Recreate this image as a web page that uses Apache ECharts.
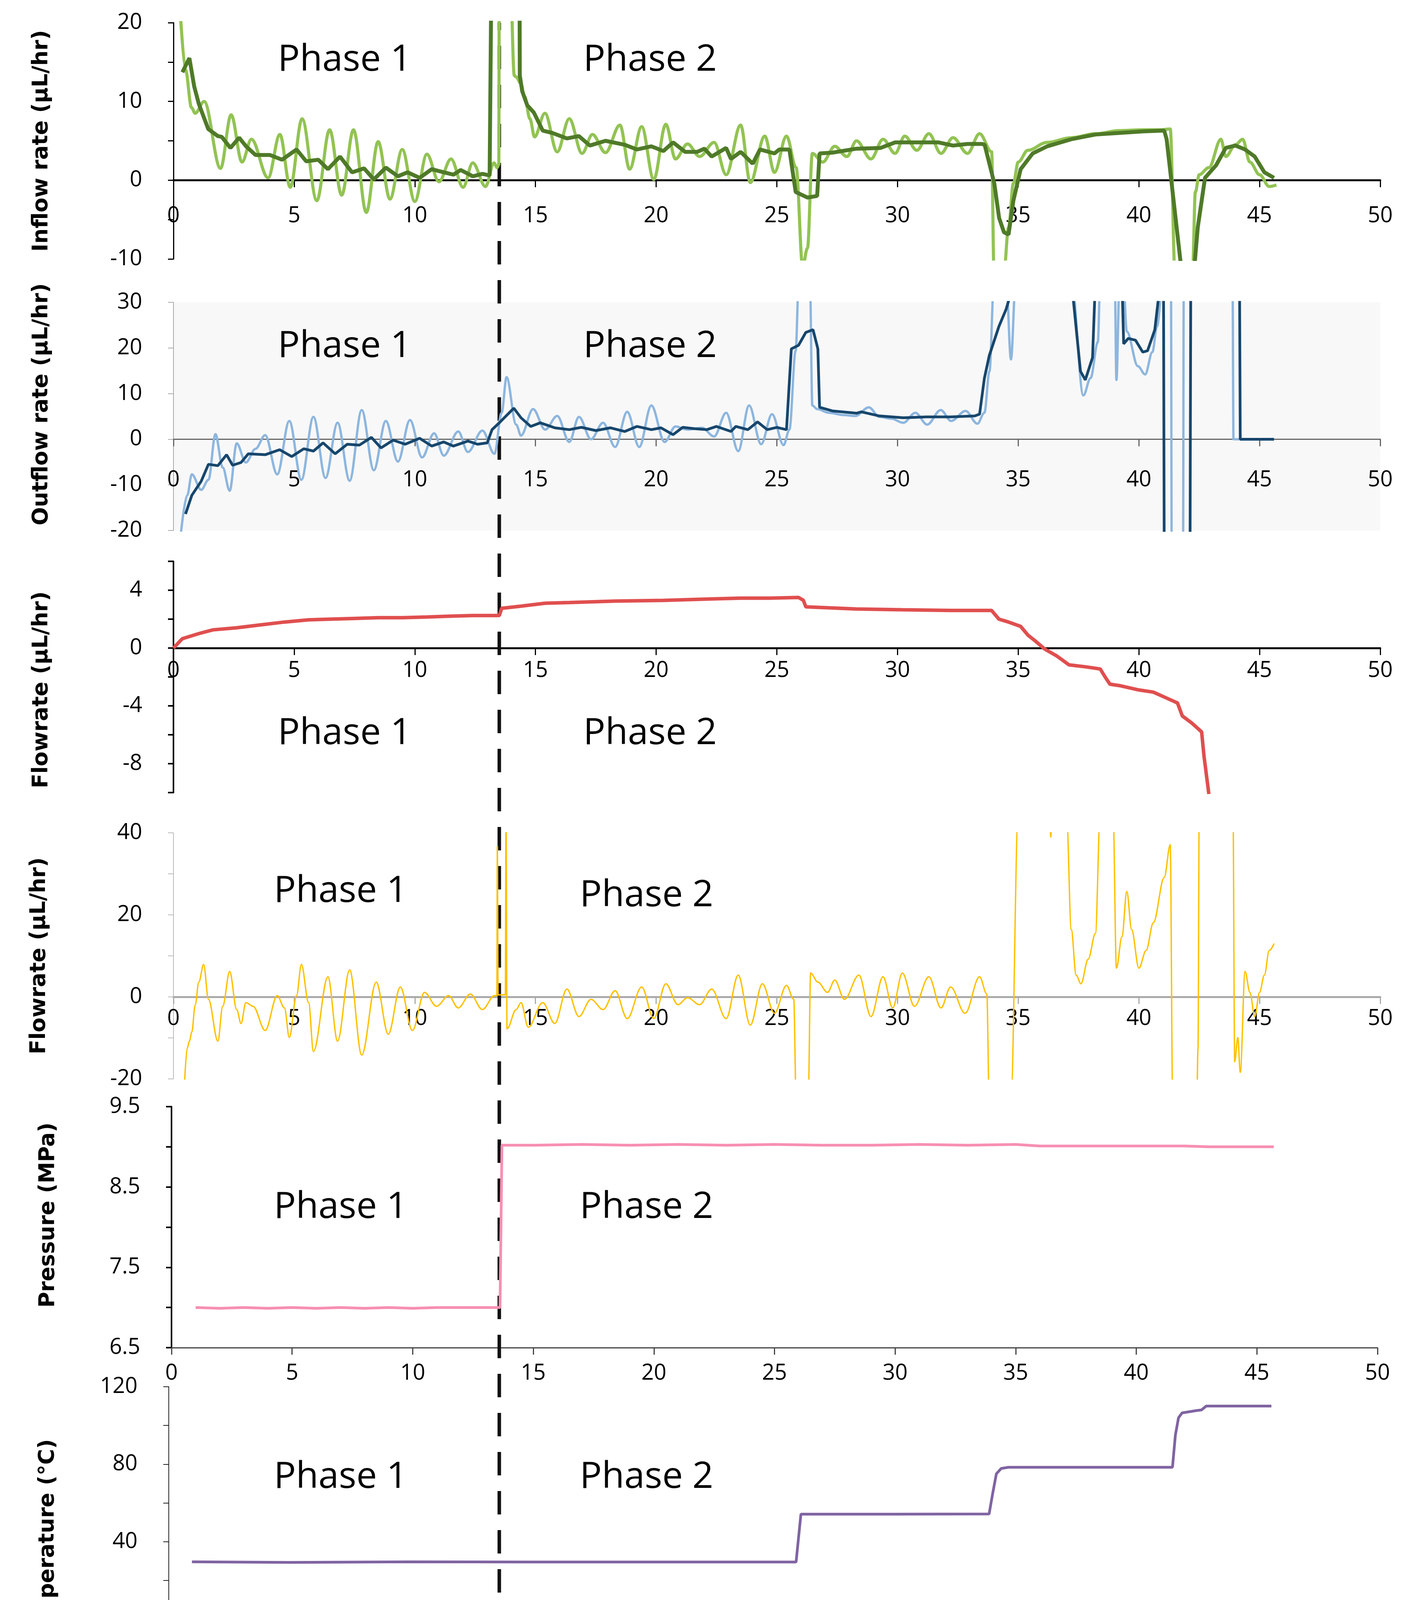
<!DOCTYPE html>
<html>
<head>
<meta charset="utf-8">
<title>Pump flow, pressure and temperature</title>
<script src="https://cdn.jsdelivr.net/npm/echarts@6/dist/echarts.min.js"></script>
<style>
    html, body { margin: 0; padding: 0; background: #fff; }
    #main { width: 3622px; height: 4697px; }
</style>
</head>
<body>
<div id="main"></div>
<script>
    // x = time (days), y = value
    const injectionPump = [
        [0.27, 22], [0.5, 14], [0.75, 9.2], [0.9, 8.5], [1.27, 10], [1.95, 1.5], [2.39, 8.3], [2.84, 2.3],
        [3.23, 5.2], [3.92, 0.3], [4.41, 5.8], [4.84, -0.9], [5.33, 7.8], [5.94, -2.6], [6.47, 6.4], [6.97, -1.9],
        [7.46, 6.4], [7.99, -4.1], [8.48, 4.9], [8.97, -2.4], [9.48, 3.9], [10.0, -2.7], [10.5, 3.3], [11.0, -0.2],
        [11.5, 2.7], [12.0, -0.9], [12.4, 2.2], [12.93, -0.8], [13.28, 2.2], [13.41, 1.6], [13.48, 2.0], [13.5, 25],
        [13.96, 25], [14.12, 13.3], [14.2, 13.1], [14.39, 12.3], [14.55, 10.6], [14.77, 7.8], [14.96, 5.5],
        [15.39, 8.5], [15.9, 3.6], [16.4, 7.8], [16.93, 3.4], [17.36, 5.8], [17.9, 3.5], [18.5, 7.0], [18.9, 1.4],
        [19.4, 6.8], [19.9, 0.1], [20.4, 7.1], [20.8, 2.7], [21.3, 4.6], [21.8, 3.0], [22.4, 4.8], [22.9, 0.7],
        [23.5, 7.0], [23.9, -0.3], [24.5, 5.6], [24.9, 1.0], [25.4, 5.6], [25.8, 1.6], [26.07, -11], [26.27, -8.6],
        [26.47, 3.4], [26.9, 2.3], [27.4, 4.3], [27.9, 3.0], [28.3, 5.0], [28.9, 2.7], [29.4, 5.2], [29.9, 3.4],
        [30.3, 5.6], [30.8, 3.8], [31.3, 5.9], [31.8, 3.4], [32.3, 5.4], [32.9, 3.4], [33.4, 5.9], [33.9, 3.6],
        [34.0, -12], [34.4, -12], [34.6, -6], [34.8, -0.4], [35.0, 2.3], [35.4, 3.8], [36.2, 4.8], [37.2, 5.4],
        [38.2, 5.9], [39.2, 6.3], [40.2, 6.4], [40.9, 6.4], [41.3, 6.5], [41.5, -12], [42.22, -12], [42.34, -1.5],
        [42.5, 0.7], [42.9, 1.6], [43.4, 5.2], [43.6, 3.0], [44.0, 4.5], [44.3, 5.2], [44.6, 2.3], [45.0, 0.7],
        [45.4, -0.8], [45.7, -0.6]
    ];
    const injectionAvg = [
        [0.37, 13.7], [0.66, 15.5], [0.86, 11.9], [1.05, 9.7], [1.44, 6.5], [1.84, 5.6], [2.0, 5.5], [2.36, 4.1],
        [2.72, 5.4], [3.01, 4.3], [3.4, 3.2], [4.0, 3.2], [4.5, 2.6], [5.1, 3.9], [5.5, 2.4], [6.0, 2.6],
        [6.4, 1.4], [6.9, 3.0], [7.4, 1.0], [7.9, 1.5], [8.3, 0.1], [8.8, 1.6], [9.3, 0.5], [9.7, 1.0],
        [10.2, 0.3], [10.7, 1.4], [11.2, 1.0], [11.6, 0.7], [11.9, 1.3], [12.4, 0.5], [12.8, 0.8], [13.1, 0.6],
        [13.17, 25], [14.34, 25], [14.35, 13.3], [14.45, 11.3], [14.66, 9.5], [14.93, 8.6], [15.3, 6.3], [15.7, 6.0],
        [16.3, 5.3], [16.8, 5.6], [17.25, 4.4], [17.9, 5.0], [18.7, 4.5], [19.2, 3.9], [19.8, 4.3], [20.3, 3.7],
        [20.7, 4.8], [21.2, 3.6], [21.7, 3.6], [22.0, 4.0], [22.3, 3.0], [22.9, 4.1], [23.1, 2.7], [23.5, 3.6],
        [24.0, 2.1], [24.3, 3.9], [24.9, 3.4], [25.1, 3.9], [25.52, 3.9], [25.78, -1.5], [26.27, -2.2], [26.67, -2.0],
        [26.77, 3.4], [27.3, 3.5], [28.3, 4.0], [29.3, 4.1], [29.9, 4.8], [30.9, 4.8], [31.7, 4.8], [32.3, 4.4],
        [32.9, 4.6], [33.5, 4.6], [33.61, 4.5], [34.01, -0.4], [34.21, -4.8], [34.41, -6.6], [34.6, -6.9],
        [34.8, -2.6], [35.1, 1.4], [35.6, 3.4], [36.2, 4.3], [37.2, 5.2], [38.2, 5.8], [39.2, 6.0], [40.2, 6.2],
        [41.05, 6.3], [41.15, 5.2], [41.75, -11], [42.3, -11], [42.44, -6], [42.74, 0.3], [43.2, 1.9], [43.6, 4.1],
        [44.0, 4.4], [44.4, 3.9], [44.8, 3.0], [45.2, 1.0], [45.6, 0.3]
    ];
    const backpressurePump = [
        [0.3, -21], [0.57, -12.3], [0.76, -7.7], [1.15, -11.1], [1.45, -8.9], [1.74, 1.1], [2.04, -6.2], [2.33, -11.3],
        [2.62, -0.9], [3.0, -5.1], [3.4, -2.1], [3.8, 0.9], [4.3, -7.7], [4.8, 4.0], [5.3, -8.9], [5.8, 4.9],
        [6.3, -8.5], [6.8, 3.6], [7.3, -9.1], [7.8, 6.4], [8.3, -6.8], [8.8, 4.0], [9.3, -4.9], [9.8, 4.2],
        [10.3, -4.0], [10.8, 1.3], [11.2, -3.6], [11.8, 1.7], [12.2, -2.8], [12.8, 1.9], [13.3, -3.2], [13.6, 5.8],
        [13.8, 13.6], [14.2, 3.2], [14.4, 0.8], [14.9, 6.6], [15.4, 2.1], [15.9, 5.1], [16.4, -0.6], [16.8, 4.9],
        [17.3, 0], [17.8, 3.6], [18.3, -1.7], [18.8, 6.0], [19.3, -1.7], [19.8, 7.4], [20.35, -0.6], [20.8, 2.8],
        [21.3, 2.1], [21.9, 2.5], [22.4, 0.6], [22.9, 5.8], [23.4, -2.6], [23.85, 7.4], [24.35, -1.1], [24.8, 5.5],
        [25.28, -1.3], [25.52, 2.1], [25.78, 19.4], [25.91, 35], [26.37, 35], [26.47, 7.4], [26.67, 6.6],
        [27.16, 5.8], [27.76, 5.3], [28.26, 5.1], [28.81, 7.0], [29.25, 4.9], [29.74, 4.5], [30.24, 3.6],
        [30.74, 5.8], [31.23, 3.2], [31.79, 6.4], [32.22, 4.0], [32.82, 6.2], [33.31, 3.4], [33.6, 5.8],
        [33.81, 14.9], [34.0, 35], [34.5, 35], [34.7, 17.5], [34.9, 35], [37.2, 35], [37.7, 9.6], [38.0, 13.4],
        [38.3, 21.3], [38.4, 35], [39.0, 35], [39.07, 13.0], [39.2, 35], [39.35, 35], [39.5, 23.6], [39.96, 16.0],
        [40.26, 14.2], [40.56, 19.1], [40.75, 24.7], [41.0, 35], [41.33, 35], [41.36, -25], [41.83, -25],
        [41.86, 35], [43.88, 35], [43.92, 0], [45.6, 0]
    ];
    const backpressureAvg = [
        [0.5, -16.4], [0.76, -12.3], [1.15, -9.2], [1.45, -5.5], [1.84, -5.8], [2.2, -3.4], [2.45, -5.7], [2.8, -5.1],
        [3.1, -3.2], [3.8, -3.4], [4.4, -2.3], [4.9, -3.8], [5.4, -2.1], [5.8, -2.6], [6.2, -0.8], [6.7, -3.2],
        [7.2, -1.1], [7.7, -1.3], [8.2, 0.4], [8.6, -1.9], [9.1, -0.2], [9.6, -1.1], [10.2, 0.2], [10.7, -1.5],
        [11.2, -0.6], [11.6, -1.5], [12.2, -0.4], [12.6, -1.1], [13.0, -0.8], [13.2, 2.1], [13.5, 3.6], [14.1, 6.8],
        [14.4, 4.7], [14.8, 2.8], [15.2, 3.6], [15.8, 2.5], [16.4, 2.1], [16.9, 2.6], [17.5, 1.9], [18.1, 2.5],
        [18.7, 1.7], [19.2, 2.8], [19.8, 2.1], [20.2, 2.5], [20.7, 1.0], [21.1, 2.6], [21.6, 2.3], [22.1, 2.1],
        [22.5, 2.8], [23.1, 1.7], [23.3, 2.8], [23.8, 2.1], [24.2, 3.8], [24.6, 2.1], [25.0, 2.6], [25.4, 2.1],
        [25.6, 19.8], [25.9, 20.6], [26.2, 23.4], [26.5, 24.0], [26.7, 19.8], [26.77, 7.0], [27.3, 6.2],
        [28.3, 5.7], [28.5, 6.0], [29.25, 5.1], [30.24, 4.7], [31.2, 4.9], [32.2, 4.9], [33.2, 5.1], [33.4, 5.5],
        [33.6, 13.4], [33.8, 18.3], [34.2, 24.7], [34.5, 28.5], [34.64, 31], [35.0, 35], [37.2, 35], [37.58, 14.9],
        [37.78, 13.0], [38.08, 17.9], [38.2, 35], [39.3, 35], [39.37, 20.9], [39.56, 22.1], [39.86, 21.7],
        [40.16, 19.1], [40.36, 19.4], [40.66, 24.0], [40.9, 35], [41.02, 35], [41.05, -25], [42.12, -25],
        [42.15, 35], [44.17, 35], [44.2, 0], [45.6, 0]
    ];
    const netFlow = [
        [0, 0], [0.37, 0.65], [1.05, 1.0], [1.64, 1.26], [2.6, 1.4], [3.6, 1.6], [4.6, 1.8], [5.6, 1.95],
        [6.5, 2.0], [7.5, 2.05], [8.5, 2.1], [9.5, 2.1], [10.5, 2.15], [11.4, 2.2], [12.4, 2.25], [13.5, 2.25],
        [13.6, 2.75], [14.4, 2.9], [15.4, 3.1], [16.4, 3.15], [18.3, 3.25], [20.3, 3.3], [22.3, 3.4], [23.5, 3.45],
        [24.7, 3.45], [25.9, 3.5], [26.1, 3.3], [26.2, 2.85], [28.3, 2.7], [30.2, 2.65], [32.2, 2.6], [33.9, 2.6],
        [34.2, 2.0], [34.6, 1.8], [35.1, 1.5], [35.4, 0.9], [35.7, 0.5], [36.1, -0.07], [36.6, -0.55],
        [37.1, -1.16], [37.8, -1.3], [38.4, -1.45], [38.6, -2.0], [38.8, -2.5], [39.2, -2.6], [40.0, -2.9],
        [40.6, -3.05], [41.2, -3.5], [41.6, -3.8], [41.8, -4.7], [42.2, -5.2], [42.6, -5.8], [42.7, -7.5], [42.9, -10.1]
    ];
    const confiningPump = [
        [0.45, -22], [0.57, -12.5], [0.66, -10.8], [0.76, -8.6], [0.9, -2], [1.05, 3.6], [1.25, 7.9], [1.45, -0.6],
        [1.84, -10.8], [2.04, -2.3], [2.33, 6.2], [2.62, -3.1], [2.8, -6.5], [3.0, -1.4], [3.3, -2.3], [3.8, -8.2],
        [4.3, 0.3], [4.6, -2.7], [4.8, -9.9], [5.1, 0.3], [5.3, 7.9], [5.6, -1.4], [5.8, -13.3], [6.4, 4.9],
        [6.8, -10.8], [7.3, 6.6], [7.8, -14.2], [8.4, 3.6], [8.9, -9.1], [9.4, 2.4], [9.9, -8.2], [10.4, 1.1],
        [10.9, -2.3], [11.4, 0.3], [11.8, -2.7], [12.3, 0.7], [12.8, -3.1], [13.3, 0.3], [13.4, 0.3], [13.42, 36.7],
        [13.45, 0.5], [13.75, 0.5], [13.78, 45], [13.82, -7.8], [14.2, -3.1], [14.4, -1.4], [14.7, -7.4],
        [15.3, -1.4], [15.8, -6.5], [16.3, 1.9], [16.8, -4.8], [17.3, -0.6], [17.8, -3.1], [18.3, 1.5], [18.8, -5.3],
        [19.4, 2.4], [19.9, -5.3], [20.4, 3.2], [20.9, -1.9], [21.3, -0.2], [21.8, -1.9], [22.3, 1.9], [22.9, -5.3],
        [23.4, 5.3], [23.9, -6.9], [24.4, 3.2], [24.9, -4.0], [25.4, 2.8], [25.7, -0.6], [25.8, -25], [26.3, -25],
        [26.4, 5.8], [26.7, 3.6], [27.1, 1.1], [27.4, 4.1], [27.8, -0.6], [28.4, 5.3], [28.9, -4.8], [29.4, 4.9],
        [29.8, -2.7], [30.2, 5.8], [30.7, -2.3], [31.3, 4.9], [31.8, -2.7], [32.2, 2.4], [32.8, -4.0], [33.4, 4.9],
        [33.7, 0.7], [33.8, -25], [34.7, -25], [35.0, 45], [36.3, 45], [36.35, 39], [36.4, 45], [37.0, 45],
        [37.2, 16.4], [37.4, 5.3], [37.6, 3.2], [37.9, 9.2], [38.2, 15.5], [38.4, 45], [38.93, 45], [39.07, 7.0],
        [39.3, 14.7], [39.5, 25.7], [39.7, 16.4], [40.0, 7.0], [40.3, 11.3], [40.6, 18.1], [41.05, 29.1],
        [41.3, 37.1], [41.4, -25], [42.4, -25], [42.45, -12.5], [42.5, 45], [43.9, 45], [43.97, -15.8],
        [44.1, -9.9], [44.2, -18.4], [44.4, 6.2], [44.6, 1.1], [44.8, -4.8], [45.0, 1.1], [45.2, 5.3],
        [45.4, 11.3], [45.6, 13.0]
    ];
    const confiningPressure = [
        [1.0, 7.00], [2.0, 6.99], [3.0, 7.00], [4.0, 6.99], [5.0, 7.00], [6.0, 6.99], [7.0, 7.00], [8.0, 6.99],
        [9.0, 7.00], [10.0, 6.99], [11.0, 7.00], [12.0, 7.00], [13.0, 7.00], [13.62, 7.00], [13.7, 9.02],
        [15, 9.02], [17, 9.03], [19, 9.02], [21, 9.03], [23, 9.02], [25, 9.03], [27, 9.02], [29, 9.02],
        [31, 9.03], [33, 9.02], [35, 9.03], [36, 9.01], [38, 9.01], [40, 9.01], [42, 9.01], [43, 9.00],
        [44, 9.00], [45.7, 9.00]
    ];
    const temperature = [
        [0.96, 29.6], [5, 29.3], [10, 29.6], [15, 29.5], [20, 29.5], [26.0, 29.5], [26.2, 54.2], [30, 54.2],
        [34.0, 54.3], [34.15, 65], [34.3, 75], [34.5, 77.8], [34.8, 78.4], [38, 78.4], [41.6, 78.4],
        [41.72, 95], [41.85, 104], [42.0, 106.5], [42.6, 107.7], [42.8, 108], [43.0, 110], [45.7, 110]
    ];
    const phaseBoundaryDay = 13.5;

    const xTicks = {min: 0, max: 50, interval: 5};
    const legendNames = ['Injection Pump', 'Backpressure Pump', 'Net Flow', 'Confining Pump', 'Confining Pressure', 'Temperature'];
    const legendColors = ['#92c353', '#4f8ac9', '#e04f4f', '#ffc000', '#f78fb3', '#8064a2'];

    const tickFont = "'Open Sans', sans-serif";
    const nameFont = "'DejaVu Sans', Verdana, sans-serif";

    // panel boxes (px) and y ranges
    const panels = [
        {left: 444, top: 58, width: 3089, height: 605, yMin: -10, yMax: 20},
        {left: 444, top: 774, width: 3089, height: 584, yMin: -20, yMax: 30},
        {left: 444, top: 1437, width: 3089, height: 592, yMin: -10, yMax: 6},
        {left: 444, top: 2132, width: 3089, height: 630, yMin: -20, yMax: 40},
        {left: 439, top: 2833, width: 3087, height: 617, yMin: 6.5, yMax: 9.5},
        {left: 432, top: 3550, width: 3088, height: 595, yMin: 0, yMax: 120}
    ];

    const grids = panels.map(p => ({left: p.left, top: p.top, width: p.width, height: p.height}));
    grids[1].show = true;
    grids[1].backgroundColor = '#f8f8f8';
    grids[1].borderWidth = 0;
    // overlay for the dashed phase boundary line
    grids.push({left: 444, top: 58, width: 3089, height: 4019});
    // helper grids whose bottom edge is the y = 0 line of panels 1-4 (carry the crossing time axis)
    for (let i = 0; i < 4; i++) {
        const p = panels[i];
        grids.push({left: p.left, top: p.top, width: p.width, height: p.height * p.yMax / (p.yMax - p.yMin)});
    }

    function timeAxis(gridIndex, lineColor, lineWidth, margin) {
        return {
            type: 'value', gridIndex: gridIndex, min: xTicks.min, max: xTicks.max, interval: xTicks.interval,
            splitLine: {show: false},
            axisLine: {show: true, onZero: false, lineStyle: {color: lineColor, width: lineWidth}},
            axisTick: {show: true, length: 18, lineStyle: {color: lineColor, width: 3}},
            axisLabel: {fontSize: 56, fontFamily: tickFont, color: '#000', margin: margin}
        };
    }
    function hiddenAxis(gridIndex, min, max) {
        return {type: 'value', gridIndex: gridIndex, min: min, max: max, show: false};
    }

    function yAxisFor(i, o) {
        return {
            type: 'value', gridIndex: i, min: panels[i].yMin, max: panels[i].yMax, interval: o.interval,
            name: o.name, nameLocation: 'middle', nameGap: o.nameGap,
            nameTextStyle: {fontSize: 55, fontWeight: 'bold', fontFamily: nameFont, color: '#000', padding: o.namePad || 0},
            splitLine: {show: false},
            axisLine: {show: true, onZero: false, lineStyle: {color: o.color, width: o.width}},
            axisTick: {show: true, length: 14, lineStyle: {color: o.color, width: o.width}},
            axisLabel: {fontSize: 56, fontFamily: tickFont, color: '#000', margin: 80, formatter: o.fmt}
        };
    }

    function lineSeries(name, i, data, color, width, extra) {
        return Object.assign({
            name: name, type: 'line', xAxisIndex: i, yAxisIndex: i, data: data,
            showSymbol: false, symbol: 'none', clip: true, z: 2,
            lineStyle: {color: color, width: width},
            itemStyle: {color: color}
        }, extra || {});
    }
    const wavy = {smooth: 0.35, smoothMonotone: 'x'};

    const phaseTexts = [
        [882, 154, 1664, 154], [882, 887, 1664, 887], [882, 1878, 1664, 1878],
        [872, 2282, 1655, 2293], [872, 3091, 1655, 3091], [872, 3782, 1655, 3782]
    ];
    const graphics = [];
    phaseTexts.forEach(p => {
        ['Phase 1', 'Phase 2'].forEach((t, k) => {
            graphics.push({
                type: 'text', x: p[k * 2], y: p[k * 2 + 1], z: 10,
                style: {text: t, fontSize: 94, fontFamily: tickFont, fill: '#000', align: 'center', verticalAlign: 'middle'}
            });
        });
    });
    graphics.push({
        type: 'text', x: 2047, y: 4377, z: 10,
        style: {text: 'Time (days)', fontSize: 63, fontFamily: tickFont, fill: '#000', align: 'left', verticalAlign: 'middle'}
    });

    const legendText = {fontSize: 62, fontFamily: tickFont, color: '#000', lineHeight: 70, padding: [0, 0, 0, 36]};

    const chart = echarts.init(document.getElementById('main'));
    const option = {
        backgroundColor: '#fff',
        animation: false,
        grid: grids,
        xAxis: [
            hiddenAxis(0, 0, 50),
            hiddenAxis(1, 0, 50),
            hiddenAxis(2, 0, 50),
            hiddenAxis(3, 0, 50),
            timeAxis(4, '#444', 3, 38),
            timeAxis(5, '#444', 3, 48),
            hiddenAxis(6, 0, 50),
            timeAxis(7, '#000', 5, 64),
            timeAxis(8, '#666', 3, 77),
            timeAxis(9, '#000', 5, 30),
            timeAxis(10, '#aaa', 5, 28)
        ],
        yAxis: [
            yAxisFor(0, {interval: 5, name: 'Inflow rate (µL/hr)', nameGap: 310, color: '#000', width: 3,
                fmt: v => (v % 10 === 0 ? String(v) : '')}),
            yAxisFor(1, {interval: 10, name: 'Outflow rate (µL/hr)', nameGap: 310, color: '#aaa', width: 2,
                namePad: [0, 0, 0, 62]}),
            yAxisFor(2, {interval: 2, name: 'Flowrate (µL/hr)', nameGap: 310, color: '#000', width: 4,
                namePad: [0, 66, 0, 0], fmt: v => (v % 4 === 0 ? String(v) : '')}),
            yAxisFor(3, {interval: 10, name: 'Flowrate (µL/hr)', nameGap: 316, color: '#bbb', width: 2,
                fmt: v => (v % 20 === 0 ? String(v) : '')}),
            yAxisFor(4, {interval: 0.5, name: 'Pressure (MPa)', nameGap: 288, color: '#000', width: 4,
                namePad: [0, 0, 0, 62], fmt: v => (Math.round(v * 2) % 2 === 1 ? v.toFixed(1) : '')}),
            yAxisFor(5, {interval: 20, name: 'Temperature (°C)', nameGap: 282, color: '#222', width: 2,
                namePad: [0, 206, 0, 0], fmt: v => (v % 40 === 0 ? String(v) : '')}),
            hiddenAxis(6, 0, 1),
            hiddenAxis(7, 0, 1),
            hiddenAxis(8, 0, 1),
            hiddenAxis(9, 0, 1),
            hiddenAxis(10, 0, 1)
        ],
        legend: {
            orient: 'vertical', left: 420, top: 4337, height: 290,
            icon: 'roundRect', itemWidth: 46, itemHeight: 8, itemGap: 36,
            borderColor: '#000', borderWidth: 6, padding: [18, 50, 37, 54],
            textStyle: Object.assign({width: 624}, legendText),
            data: legendNames.map((n, k) => ({
                name: n,
                itemStyle: {color: legendColors[k], borderWidth: 0},
                textStyle: Object.assign({width: k < 3 ? 624 : 560}, legendText)
            }))
        },
        graphic: graphics,
        series: [
            {
                name: 'phase boundary', type: 'line', xAxisIndex: 6, yAxisIndex: 6, z: 1,
                data: [[phaseBoundaryDay, 0], [phaseBoundaryDay, 1]], showSymbol: false, symbol: 'none',
                lineStyle: {color: '#111', width: 9, type: [60, 40]}
            },
            lineSeries('Injection Pump', 0, injectionPump, '#92c353', 8, wavy),
            lineSeries('Injection Pump avg', 0, injectionAvg, '#4f7a28', 10, {z: 3}),
            lineSeries('Backpressure Pump', 1, backpressurePump, '#8db6de', 6, wavy),
            lineSeries('Backpressure Pump avg', 1, backpressureAvg, '#17466c', 7, {z: 3}),
            lineSeries('Net Flow', 2, netFlow, '#e04f4f', 9),
            lineSeries('Confining Pump', 3, confiningPump, '#ffc000', 3.5, wavy),
            lineSeries('Confining Pressure', 4, confiningPressure, '#f78fb3', 7),
            lineSeries('Temperature', 5, temperature, '#8064a2', 7)
        ]
    };
    chart.setOption(option);
</script>
</body>
</html>
